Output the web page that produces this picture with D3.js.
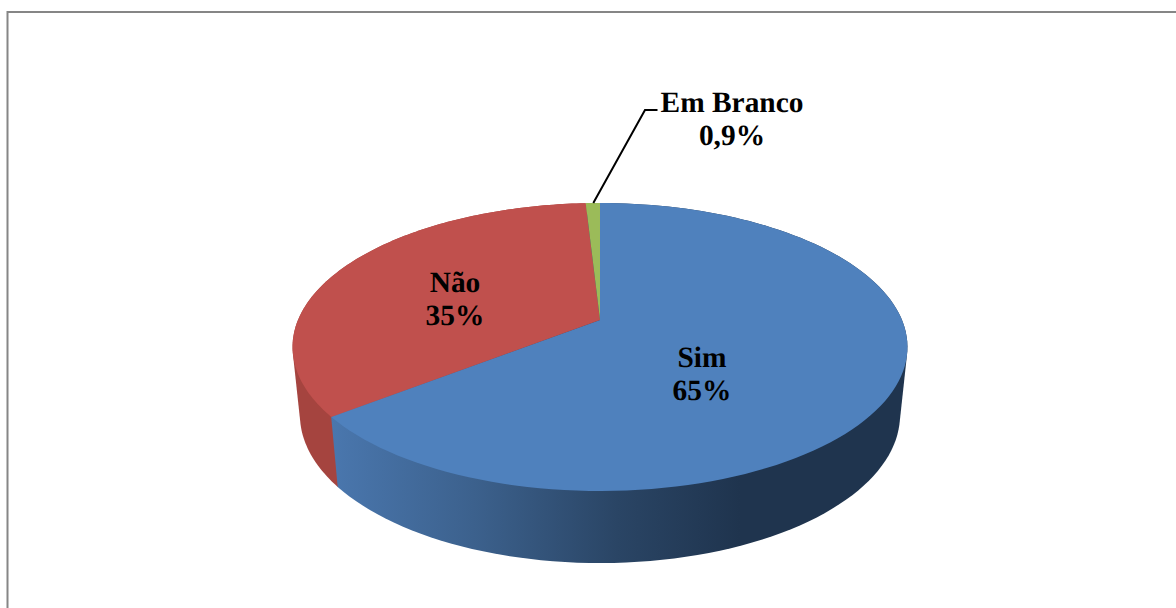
<!DOCTYPE html>
<html><head><meta charset="utf-8">
<script src="https://d3js.org/d3.v7.min.js"></script>
<style>html,body{margin:0;padding:0;background:#fff;overflow:hidden}svg{display:block}
text{font-family:"Liberation Serif",serif;font-weight:bold;font-size:29.4px;fill:#000;text-anchor:middle;text-rendering:geometricPrecision}</style>
</head><body><svg id="c" width="1176" height="608"></svg>
<script>
const categories = ["Sim", "Não", "Em Branco"];
const values = [65, 35, 0.9];
const valueLabels = ["65%", "35%", "0,9%"];
const topColors = ["#4f81bd", "#c0504d", "#9bbb59"];

const svg = d3.select("#c");

// Frame
svg.append("path").attr("d", "M7.5,608V12H1176").attr("fill", "none").attr("stroke", "#868686").attr("stroke-width", 2);

// Perspective projection of a disc: rim of the top face and of the lower face
const persp = -0.1875;
function projector(cx, cy, kx, ky) {
  return (a, r = 1) => {
    const x = r * Math.sin(a), y = -r * Math.cos(a), w = 1 + persp * y;
    return [cx + kx * x / w, cy + ky * y / w];
  };
}
const topRim = projector(600, 320, 302, 138.94);
const lowRim = projector(600, 387.3, 294.7, 142.8);

const pie = d3.pie().sort(null).value(d => d)(values);
const samples = (a0, a1) => d3.range(0, 121).map(i => a0 + (a1 - a0) * i / 120);
const line = d3.line();

const defs = svg.append("defs");
const grad = defs.append("linearGradient").attr("id", "wallBlue").attr("gradientUnits", "userSpaceOnUse")
  .attr("x1", 330).attr("x2", 740).attr("y1", 0).attr("y2", 0);
[[0, "#4a77ae"], [0.35, "#3c618d"], [0.7, "#2a4565"], [1, "#1f344e"]].forEach(s =>
  grad.append("stop").attr("offset", s[0]).attr("stop-color", s[1]));

const wallFill = ["url(#wallBlue)", "#a5443f", "#7d9647"];
// Walls: hull of each slice's two rims, so the side silhouette runs straight between them
[1, 2, 0].forEach(i => {
  const d = pie[i];
  const ang = samples(d.startAngle, d.endAngle);
  const pts = ang.map(a => topRim(a)).concat(ang.map(a => lowRim(a)));
  svg.append("path").attr("d", line(d3.polygonHull(pts)) + "Z").attr("fill", wallFill[i]);
});
// Top faces
pie.forEach((d, i) => {
  const pts = [topRim(0, 0)].concat(samples(d.startAngle, d.endAngle).map(a => topRim(a)));
  svg.append("path").attr("d", line(pts) + "Z").attr("fill", topColors[i]);
});

// Leader line for the smallest slice
svg.append("path").attr("d", "M593.3,203L645,110H657.5").attr("fill", "none").attr("stroke", "#000").attr("stroke-width", 2);

// Labels
const labelPos = [[702, 367, 400], [455, 292, 325], [732, 112, 145]];
categories.forEach((c, i) => {
  svg.append("text").attr("x", labelPos[i][0]).attr("y", labelPos[i][1]).text(c);
  svg.append("text").attr("x", labelPos[i][0]).attr("y", labelPos[i][2]).text(valueLabels[i]);
});
</script></body></html>
